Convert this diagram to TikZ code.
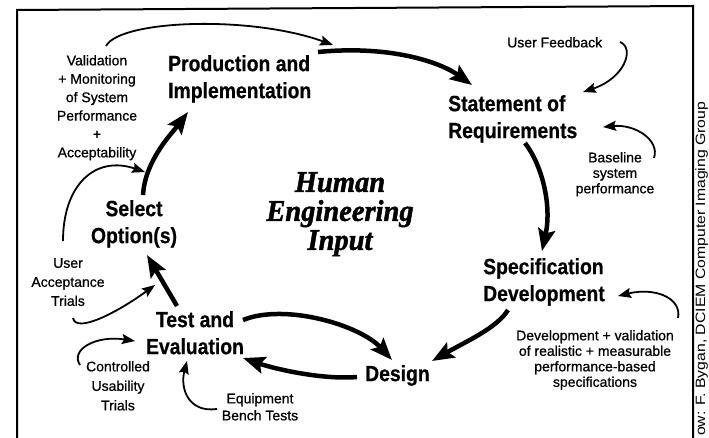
\documentclass[tikz,border=0pt]{standalone}
\usepackage{fontspec}
\setmainfont{Liberation Sans}
\newfontfamily\stagefont[FakeStretch=0.88,FakeBold=0.5]{Liberation Sans}
\newfontfamily\notefont[FakeBold=0.8]{Liberation Sans}
\newfontfamily\corefont[FakeStretch=0.95,FakeBold=1.5]{Liberation Serif}
\newfontfamily\creditfont[FakeStretch=1.17]{Liberation Sans}
\usetikzlibrary{arrows.meta}

\tikzset{
  stage/.style={inner sep=0pt, font=\stagefont\bfseries\fontsize{22}{27}\selectfont},
  note/.style={inner sep=0pt, align=center},
  notesize/.style={font=\notefont\fontsize{14}{#1}\selectfont},
  flow/.style={line width=4.5pt, -{Stealth[length=22pt,width=17pt,inset=4pt]}},
  feed/.style={line width=1.8pt, -{Stealth[length=13pt,width=10pt,inset=2pt]}},
  frame/.style={line width=2pt},
}

\begin{document}
\begin{tikzpicture}[x=1pt,y=-1pt]
\useasboundingbox (0,0) rectangle (709,438);
\fill[white] (0,0) rectangle (709,438);
\clip (0,0) rectangle (709,438);

% border
\draw[frame] (17,440) -- (17,10) -- (693,6) -- (693,440);

% stages of the cycle
\node[stage, anchor=north west, align=left] (prod) at (168,55) {Production and\\Implementation};
\node[stage, anchor=north west, align=left] (stmt) at (448,95) {Statement of\\Requirements};
\node[stage, anchor=north west, align=left] (spec) at (483,258) {Specification\\Development};
\node[stage, anchor=north west] (design) at (365,365) {Design};
\node[stage, anchor=north, align=center] (select) at (134,200) {Select\\Option(s)};
\node[stage, anchor=north, align=center] (test) at (195,311) {Test and\\Evaluation};

% centre title
\node[anchor=north, align=center, inner sep=0pt,
      font=\corefont\bfseries\itshape\fontsize{30}{29}\selectfont] (core) at (340,172)
      {Human\\Engineering\\Input};

% side notes
\node[note, notesize=18.4, anchor=north] (valid) at (97,55)
  {Validation\\+ Monitoring\\of System\\Performance\\+\\Acceptability};
\node[note, notesize=16, anchor=north west] (feedback) at (507,37) {User Feedback};
\node[note, notesize=15.5, anchor=north] (baseline) at (615,152) {Baseline\\system\\performance};
\node[note, notesize=15.5, anchor=north] (devval) at (595,330)
  {Development + validation\\of realistic + measurable\\performance-based\\specifications};
\node[note, notesize=19, anchor=north] (uat) at (68,258) {User\\Acceptance\\Trials};
\node[note, notesize=19.5, anchor=north] (cut) at (118,361) {Controlled\\Usability\\Trials};
\node[note, notesize=17, anchor=north] (bench) at (260,393) {Equipment\\Bench Tests};

% credit line
\node[inner sep=0pt, anchor=base west, rotate=90,
      font=\creditfont\fontsize{13.5}{16}\selectfont] (credit) at (705,436)
      {ow: F. Bygan, DCIEM Computer Imaging Group};

% main cycle
\draw[flow] ([shift={(9,-5)}]select.north) .. controls +(2,-35) and +(-15,20) .. ([shift={(20,57)}]prod.north west);
\draw[flow] ([shift={(150,-3)}]prod.north west) .. controls +(72,-7) and +(-32,-23) .. ([shift={(24,-10)}]stmt.north west);
\draw[flow] ([shift={(77,48)}]stmt.north west) .. controls +(17,22) and +(10,-46) .. ([shift={(59,-7)}]spec.north west);
\draw[flow] ([shift={(25,52)}]spec.north west) .. controls +(-11,18) and +(33,-19) .. ([shift={(67,-4)}]design.north west);
\draw[flow] ([shift={(48,9)}]test.north) .. controls +(42,-17) and +(-32,-35) .. ([shift={(27,-5)}]design.north west);
\draw[flow] ([shift={(-8,12)}]design.north west) .. controls +(-37,3) and +(29,10) .. ([shift={(48,47)}]test.north);
\draw[flow] ([shift={(-18,-5)}]test.north) -- ([shift={(13,55)}]select.north);

% feedback and input arrows
\draw[feed] ([shift={(9,-9)}]valid.north) .. controls +(14,-26) and +(-83,-30) .. ([shift={(165,-10)}]prod.north west);
\draw[feed] ([shift={(-5,-17)}]uat.north) .. controls +(0,-56) and +(-50,-17) .. ([shift={(11,-28)}]select.north);
\draw[feed] ([shift={(5,60)}]uat.north) .. controls +(3,16) and +(-37,27) .. ([shift={(-40,-26)}]test.north);
\draw[feed] ([shift={(-38,4)}]cut.north) .. controls +(-10,-15) and +(-40,-6) .. ([shift={(-60,30)}]test.north);
\draw[feed] ([shift={(-43,16)}]bench.north) .. controls +(-29,4) and +(-7,27) .. ([shift={(-8,50)}]test.north);
\draw[feed] ([shift={(113,5)}]feedback.north west) .. controls +(15,6) and +(42,-14) .. ([shift={(135,-3)}]stmt.north west);
\draw[feed] ([shift={(39,6)}]baseline.north) .. controls +(6,-18) and +(32,-3) .. ([shift={(155,32)}]stmt.north west);
\draw[feed] ([shift={(83,-12)}]devval.north) .. controls +(4,-20) and +(37,-9) .. ([shift={(135,38)}]spec.north west);
\end{tikzpicture}
\end{document}
